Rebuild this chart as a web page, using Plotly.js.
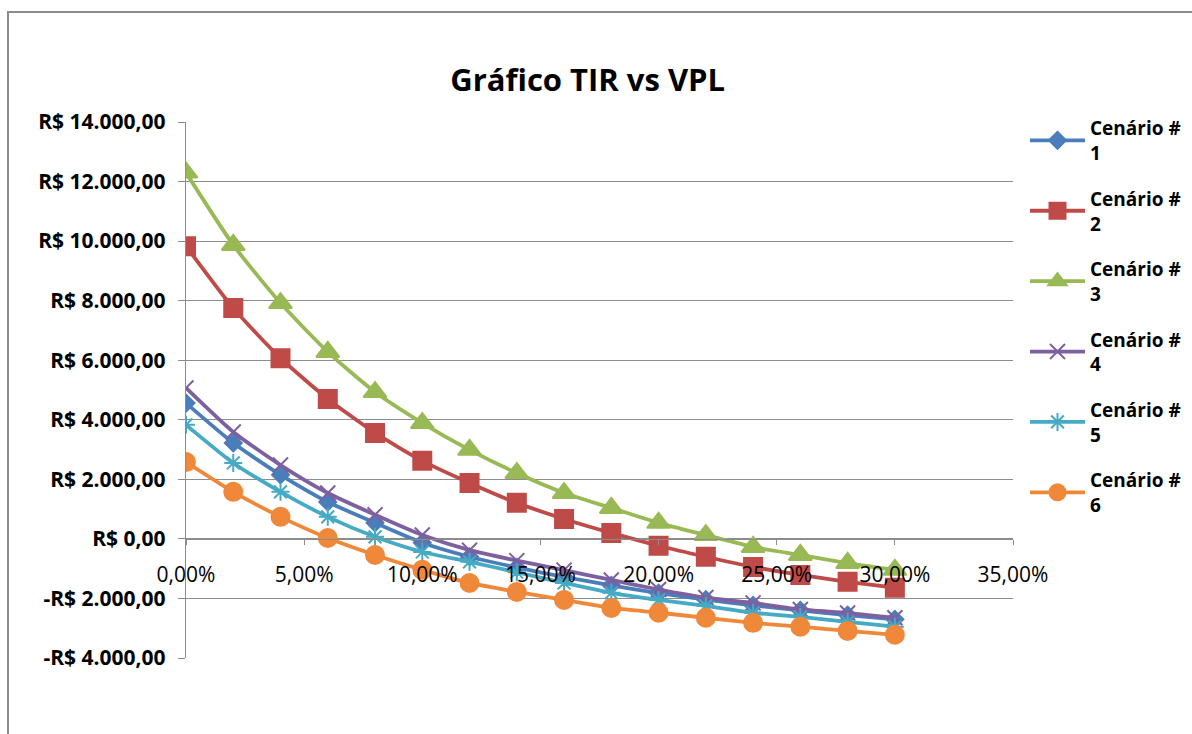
<!DOCTYPE html>
<html><head><meta charset="utf-8">
<script src="https://cdn.plot.ly/plotly-3.0.1.min.js"></script>
<style>
html,body{margin:0;padding:0;background:#fff;}
#frame{position:absolute;left:7px;top:11px;width:1300px;height:900px;border:2px solid #8c8c8c;}
#chart{position:absolute;left:0;top:0;width:1192px;height:734px;}
</style></head>
<body>
<div id="frame"></div>
<div id="chart"></div>
<script>
const rates = [0,2,4,6,8,10,12,14,16,18,20,22,24,26,28,30];
const cenario1 = [4560,3220,2150,1240,540,-130,-600,-960,-1280,-1560,-1820,-2040,-2230,-2400,-2560,-2700];
const cenario2 = [9830,7750,6070,4700,3560,2620,1880,1210,670,200,-230,-600,-940,-1210,-1440,-1640];
const cenario3 = [12300,9870,7920,6280,4930,3890,2990,2210,1540,1040,540,130,-270,-540,-810,-1040];
const cenario4 = [5070,3590,2480,1540,810,130,-380,-730,-1050,-1380,-1700,-1970,-2150,-2370,-2490,-2650];
const cenario5 = [3830,2550,1580,740,70,-440,-770,-1120,-1480,-1810,-2050,-2250,-2480,-2620,-2790,-2950];
const cenario6 = [2580,1580,740,30,-540,-1040,-1480,-1780,-2050,-2320,-2480,-2650,-2820,-2950,-3090,-3220];
const names = ["Cenário #<br>1","Cenário #<br>2","Cenário #<br>3","Cenário #<br>4","Cenário #<br>5","Cenário #<br>6"];
const yTickVals = [-4000,-2000,0,2000,4000,6000,8000,10000,12000,14000];
const yTickText = ["-R$ 4.000,00","-R$ 2.000,00","R$ 0,00","R$ 2.000,00","R$ 4.000,00","R$ 6.000,00","R$ 8.000,00","R$ 10.000,00","R$ 12.000,00","R$ 14.000,00"];
const xTickVals = [0,5,10,15,20,25,30,35];
const xTickText = ["0,00%","5,00%","10,00%","15,00%","20,00%","25,00%","30,00%","35,00%"];

const series = [cenario1,cenario2,cenario3,cenario4,cenario5,cenario6];
const colors = ["#4A7EBB","#BE4B48","#98B954","#7D60A0","#46AAC5","#F0883A"];
const symbols = ["diamond","square","triangle-up","x-thin-open","asterisk-open","circle"];
const sizes = [13,18,20,15,15,18];

const traces = series.map((s,i)=>({
  x: rates, y: s, name: names[i], type:'scatter', mode:'lines+markers',
  legendgroup:'g'+i,
  line:{color:colors[i], width:3.8, shape:'spline', smoothing:0.6},
  marker:{symbol:symbols[i], size:sizes[i], color:colors[i], line:{color:colors[i], width:2}}
}));

const font = {family:"'Open Sans', 'DejaVu Sans', sans-serif", color:'#000'};
const legendX = (1025-186)/827;
const layout = {
  width:1192, height:734,
  paper_bgcolor:'rgba(0,0,0,0)', plot_bgcolor:'rgba(0,0,0,0)',
  margin:{l:186, r:179, t:122, b:76, autoexpand:false},
  title:{text:'<b>Gráfico TIR vs VPL</b>', font:{...font, size:31}, x:0.493, xref:'container', y:0.891, yanchor:'middle'},
  showlegend:true,
  legend:{x:legendX, xanchor:'left', y:1.024, yanchor:'top', font:{...font, size:19, weight:700}, tracegroupgap:18, itemwidth:55, bgcolor:'rgba(0,0,0,0)', maxheight:620},
  xaxis:{range:[0,35], tickvals:xTickVals, ticktext:xTickText, showgrid:false, zeroline:false,
    showline:true, linecolor:'#8c8c8c', linewidth:1.3, ticks:'outside', ticklen:5, tickcolor:'#8c8c8c',
    anchor:'free', position:(0-(-4000))/(14000-(-4000)), ticklabelstandoff:12,
    tickfont:{...font, size:21, weight:400}},
  yaxis:{range:[-4000,14000], tickvals:yTickVals, ticktext:yTickText, showgrid:true, gridcolor:'#8c8c8c', gridwidth:1,
    zeroline:false, showline:true, linecolor:'#8c8c8c', linewidth:1.3, ticks:'outside', ticklen:7, tickcolor:'#8c8c8c',
    ticklabelstandoff:8, tickfont:{...font, size:21, weight:700}}
};
Plotly.newPlot('chart', traces, layout, {displayModeBar:false, staticPlot:true});
</script>
</body></html>
